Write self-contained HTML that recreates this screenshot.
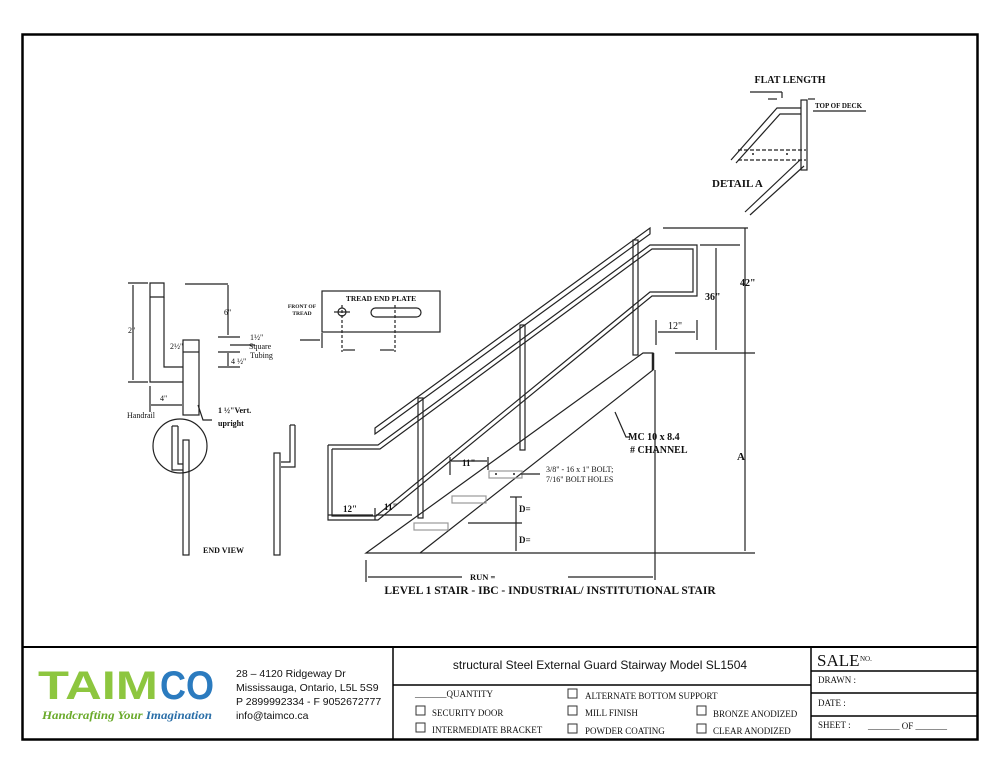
<!DOCTYPE html>
<html><head><meta charset="utf-8"><style>
html,body{margin:0;padding:0;background:#fff;}
svg{display:block;}
text{font-family:"Liberation Serif",serif;fill:#111;}
.b, .b text{font-weight:bold;}
.s, .s text{font-family:"Liberation Sans",sans-serif;}
</style></head><body>
<svg width="1000" height="773" viewBox="0 0 1000 773" xmlns="http://www.w3.org/2000/svg">
<rect x="0" y="0" width="1000" height="773" fill="#fff"/>
<rect x="22.5" y="34.5" width="955" height="705" fill="none" stroke="#000" stroke-width="2.5"/>
<g stroke="#222" stroke-width="1.2" fill="none">
<polygon points="366,553 420,553 653,370 653,353 643,353"/>
<line x1="653" y1="353" x2="653" y2="370" stroke-width="2.5"/>
<polygon points="375,428 650,228 650,234 375,434"/>
<polyline points="328,445 378,445 650,245 697,245 697,296 652,296 378,520 328,520 328,445"/>
<polyline points="332,449 380,449 652,249 693,249 693,292 650,292 376,516 332,516 332,449"/>
<rect x="418" y="398" width="5" height="120"/>
<rect x="520" y="325" width="5" height="125"/>
<rect x="633" y="240" width="5" height="115"/>
<rect x="489" y="471" width="33" height="7" stroke="#999"/>
<rect x="452" y="496" width="34" height="7" stroke="#999"/>
<rect x="414" y="523" width="34" height="7" stroke="#999"/>
<line x1="663" y1="228" x2="748" y2="228"/>
<line x1="745" y1="228" x2="745" y2="551"/>
<line x1="675" y1="353" x2="755" y2="353"/>
<line x1="700" y1="245" x2="740" y2="245"/>
<line x1="716" y1="248" x2="716" y2="350"/>
<line x1="420" y1="553" x2="755" y2="553"/>
<line x1="656" y1="320" x2="656" y2="345"/><line x1="697" y1="320" x2="697" y2="340"/>
<line x1="658" y1="332" x2="695" y2="332"/>
<line x1="366" y1="560" x2="366" y2="582"/><line x1="655" y1="370" x2="655" y2="580"/>
<line x1="368" y1="577" x2="462" y2="577"/><line x1="568" y1="577" x2="653" y2="577"/>
<line x1="328" y1="515" x2="373" y2="515"/><line x1="376" y1="515" x2="412" y2="515"/>
<line x1="375" y1="508" x2="375" y2="520"/>
<line x1="450" y1="457" x2="450" y2="475"/><line x1="488" y1="457" x2="488" y2="470"/>
<line x1="451" y1="461" x2="487" y2="461"/>
<line x1="516" y1="497" x2="516" y2="551"/>
<line x1="510" y1="497" x2="522" y2="497"/><line x1="468" y1="523" x2="522" y2="523"/>
<polyline points="615,412 626,437 630,437"/>
<line x1="521" y1="474" x2="540" y2="474"/>
<rect x="322" y="291" width="118" height="41"/>
<circle cx="342" cy="312" r="4"/>
<line x1="334" y1="312" x2="350" y2="312"/>
<rect x="371" y="308" width="50" height="9" rx="4.5"/>
<line x1="342" y1="305" x2="342" y2="352" stroke-dasharray="3,2"/>
<line x1="395" y1="305" x2="395" y2="352" stroke-dasharray="3,2"/>
<line x1="343" y1="350" x2="355" y2="350"/><line x1="380" y1="350" x2="394" y2="350"/>
<line x1="300" y1="340" x2="320" y2="340"/><line x1="322" y1="333" x2="322" y2="348"/>
<polyline points="164,297 164,367 183,367"/>
<polyline points="183,382 150,382 150,283 164,283 164,297 150,297"/>
<rect x="183" y="340" width="16" height="75"/>
<line x1="183" y1="352" x2="199" y2="352"/>
<line x1="133" y1="285" x2="133" y2="380"/><line x1="128" y1="283" x2="148" y2="283"/><line x1="128" y1="382" x2="148" y2="382"/>
<line x1="185" y1="284" x2="228" y2="284"/><line x1="228" y1="285" x2="228" y2="335"/>
<line x1="218" y1="337" x2="240" y2="337"/><line x1="218" y1="352" x2="240" y2="352"/><line x1="218" y1="367" x2="240" y2="367"/>
<line x1="228" y1="353" x2="228" y2="366"/><line x1="230" y1="345" x2="255" y2="345"/>
<line x1="150" y1="386" x2="150" y2="412"/>
<line x1="151" y1="405" x2="182" y2="405"/>
<polyline points="198,405 203,420 212,420"/>
<circle cx="180" cy="446" r="27"/>
<polyline points="172,426 172,470 183,470"/>
<polyline points="178,426 178,464 183,464"/>
<line x1="172" y1="426" x2="178" y2="426"/>
<rect x="183" y="440" width="6" height="115"/>
<polyline points="290,425 290,462 281,462"/><polyline points="295,425 295,467 281,467"/>
<line x1="290" y1="425" x2="295" y2="425"/>
<rect x="274" y="453" width="6" height="102"/>
<rect x="801" y="100" width="6" height="70"/>
<polyline points="731,160 777,108 801,108"/>
<polyline points="736,163 780,114 801,114"/>
<line x1="738" y1="150" x2="806" y2="150" stroke-dasharray="4,2"/>
<line x1="738" y1="160" x2="806" y2="160" stroke-dasharray="4,2"/>
<line x1="800" y1="160" x2="745" y2="212"/><line x1="804" y1="166" x2="750" y2="215"/>
<line x1="750" y1="92" x2="782" y2="92"/><line x1="782" y1="92" x2="782" y2="98"/>
<line x1="768" y1="99" x2="777" y2="99"/><line x1="808" y1="99" x2="815" y2="99"/>
<line x1="813" y1="111" x2="866" y2="111"/>
</g>
<g fill="#222">
<circle cx="753" cy="154" r="1"/><circle cx="787" cy="154" r="1"/>
<circle cx="496" cy="474" r="1"/><circle cx="514" cy="474" r="1"/>
</g>
<g class="b">
<text x="790" y="83" font-size="10" text-anchor="middle">FLAT LENGTH</text>
<text x="815" y="108" font-size="7">TOP OF DECK</text>
<text x="712" y="187" font-size="11">DETAIL A</text>
<text x="740" y="286" font-size="10">42"</text>
<text x="705" y="300" font-size="10">36"</text>
<text x="668" y="329" font-size="10" style="font-weight:normal">12"</text>
<text x="737" y="460" font-size="11">A</text>
<text x="628" y="440" font-size="10">MC 10 x 8.4</text>
<text x="630" y="453" font-size="10"># CHANNEL</text>
<text x="546" y="472" font-size="8" style="font-weight:normal">3/8" - 16 x 1" BOLT;</text>
<text x="546" y="482" font-size="8" style="font-weight:normal">7/16" BOLT HOLES</text>
<text x="462" y="466" font-size="9">11"</text>
<text x="343" y="512" font-size="9">12"</text>
<text x="384" y="510" font-size="9">11"</text>
<text x="519" y="512" font-size="9">D=</text>
<text x="519" y="543" font-size="9">D=</text>
<text x="470" y="580" font-size="8.5">RUN =</text>
<text x="550" y="594" font-size="11.5" text-anchor="middle">LEVEL 1 STAIR - IBC - INDUSTRIAL/ INSTITUTIONAL STAIR</text>
<text x="381" y="301" font-size="7.5" text-anchor="middle">TREAD END PLATE</text>
<text x="302" y="308" font-size="5.5" text-anchor="middle">FRONT OF</text>
<text x="302" y="315" font-size="5.5" text-anchor="middle">TREAD</text>
<text x="218" y="413" font-size="8">1 ½"Vert.</text>
<text x="218" y="426" font-size="8">upright</text>
<text x="203" y="553" font-size="8">END VIEW</text>
</g>
<g font-size="8">
<text x="128" y="333">2"</text>
<text x="224" y="315">6"</text>
<text x="170" y="349">2½"</text>
<text x="250" y="340">1½"</text>
<text x="249" y="349">Square</text>
<text x="250" y="358">Tubing</text>
<text x="231" y="364">4 ½"</text>
<text x="160" y="401">4"</text>
<text x="127" y="418">Handrail</text>
</g>
<g stroke="#000" stroke-width="1.5" fill="none">
<line x1="22" y1="647" x2="977" y2="647" stroke-width="2"/>
<line x1="393" y1="647" x2="393" y2="740"/>
<line x1="811" y1="647" x2="811" y2="740"/>
<line x1="393" y1="685" x2="811" y2="685"/>
<line x1="811" y1="671" x2="977" y2="671"/>
<line x1="811" y1="693" x2="977" y2="693"/>
<line x1="811" y1="716" x2="977" y2="716"/>
</g>
<text x="38" y="699" font-size="40" textLength="120" lengthAdjust="spacingAndGlyphs" style="font-family:'Liberation Sans',sans-serif;font-weight:bold;fill:#8dc63f">TAIM</text>
<text x="160" y="699" font-size="40" textLength="54" lengthAdjust="spacingAndGlyphs" style="font-family:'Liberation Sans',sans-serif;font-weight:bold;fill:#2b7bbf">CO</text>
<text x="42" y="719" font-size="12" textLength="170" lengthAdjust="spacingAndGlyphs" style="font-style:italic;font-weight:bold;fill:#6aaa2a">Handcrafting Your <tspan style="fill:#2b6fa8">Imagination</tspan></text>
<g class="s" font-size="10.5">
<text x="236" y="677">28 – 4120 Ridgeway Dr</text>
<text x="236" y="691">Mississauga, Ontario, L5L 5S9</text>
<text x="236" y="705">P 2899992334 - F 9052672777</text>
<text x="236" y="719">info@taimco.ca</text>
<text x="600" y="669" text-anchor="middle" font-size="12">structural Steel External Guard Stairway  Model SL1504</text>
</g>
<g font-size="9">
<text x="415" y="697">_______QUANTITY</text>
<text x="432" y="716">SECURITY DOOR</text>
<text x="432" y="733">INTERMEDIATE BRACKET</text>
<text x="585" y="699">ALTERNATE BOTTOM SUPPORT</text>
<text x="585" y="716">MILL FINISH</text>
<text x="585" y="734">POWDER COATING</text>
<text x="713" y="717">BRONZE ANODIZED</text>
<text x="713" y="734">CLEAR ANODIZED</text>
<text x="817" y="666" font-size="17">SALE</text>
<text x="860" y="661" font-size="7">NO.</text>
<text x="818" y="683">DRAWN :</text>
<text x="818" y="706">DATE :</text>
<text x="818" y="728">SHEET :</text>
<text x="868" y="729">_______  OF  _______</text>
</g>
<g fill="none" stroke="#333" stroke-width="1">
<rect x="416" y="706" width="9" height="9"/>
<rect x="416" y="723" width="9" height="9"/>
<rect x="568" y="689" width="9" height="9"/>
<rect x="568" y="706" width="9" height="9"/>
<rect x="568" y="724" width="9" height="9"/>
<rect x="697" y="706" width="9" height="9"/>
<rect x="697" y="724" width="9" height="9"/>
</g>
</svg>
</body></html>
